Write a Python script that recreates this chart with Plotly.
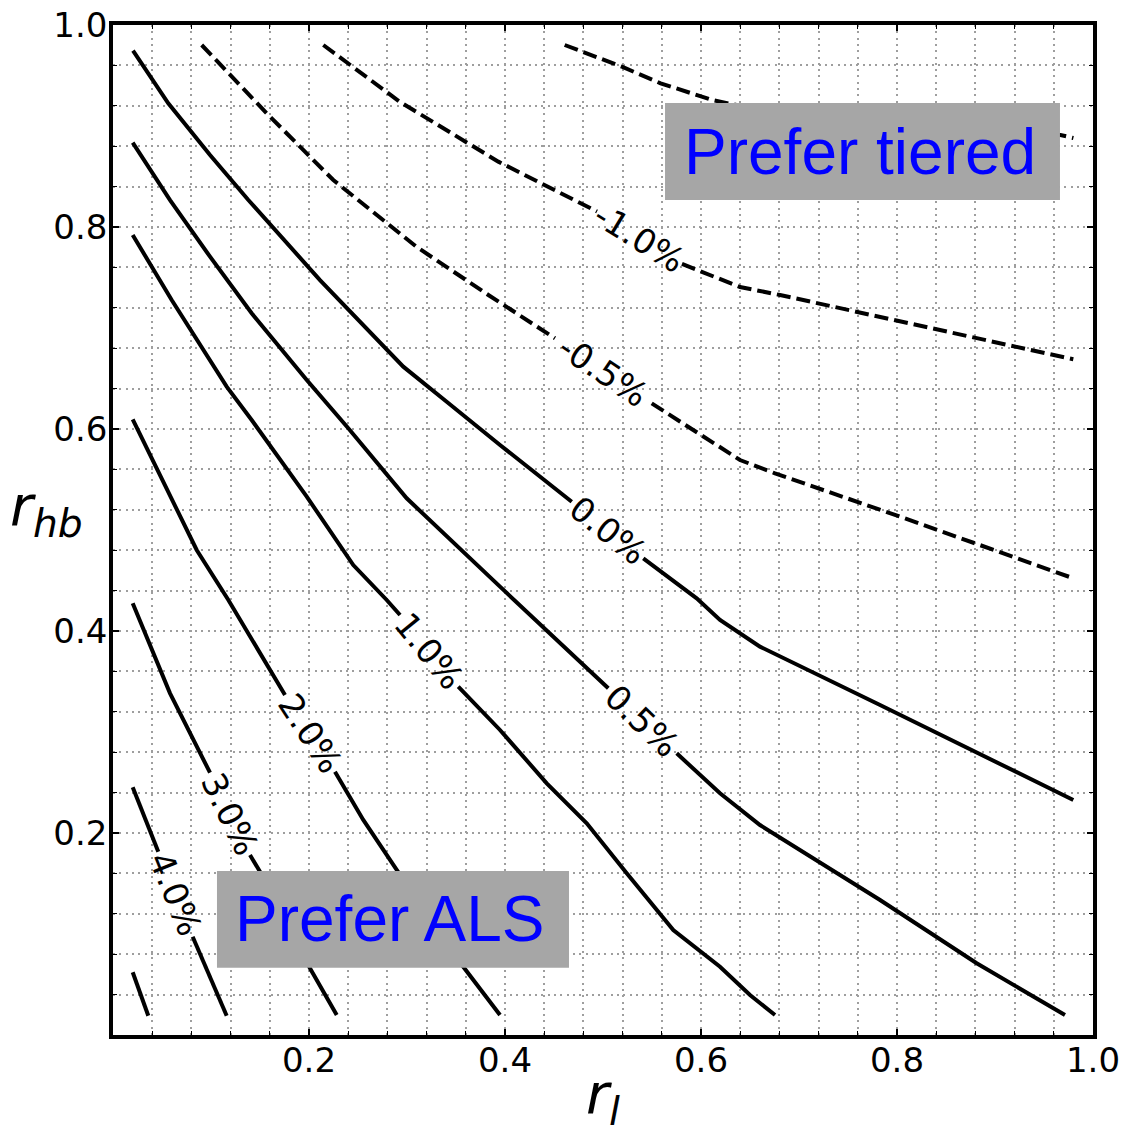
import math
import plotly.graph_objects as go

# ---- data (x = r_l, y = r_hb); None = gap left for the inline label
c_p00_x = [0.0204, 0.0564, 0.0990, 0.1381, 0.2112, 0.2962, 0.3405, 0.3949, 0.4681, None, 0.5411, 0.5956, 0.6194, 0.6602, 0.7827, 0.9799]
c_p00_y = [0.9746, 0.9225, 0.8713, 0.8267, 0.7475, 0.6617, 0.6270, 0.5842, 0.5280, None, 0.4720, 0.4324, 0.4109, 0.3845, 0.3267, 0.2327]

c_p05_x = [0.0201, 0.0582, 0.0990, 0.1415, 0.1977, 0.2401, 0.2997, 0.3405, 0.3949, 0.5054, None, 0.5752, 0.6194, 0.6602, 0.7827, 0.8813, 0.9714]
c_p05_y = [0.8835, 0.8267, 0.7706, 0.7146, 0.6485, 0.6007, 0.5314, 0.4934, 0.4439, 0.3433, None, 0.2789, 0.2393, 0.2079, 0.1337, 0.0710, 0.0198]

c_p10_x = [0.0201, 0.0599, 0.1160, 0.1415, 0.1977, 0.2452, 0.2793, 0.2929, None, 0.3523, 0.3949, 0.4426, 0.4834, 0.5242, 0.5717, 0.6194, 0.6500, 0.6755]
c_p10_y = [0.7921, 0.7277, 0.6419, 0.6089, 0.5330, 0.4653, 0.4307, 0.4158, None, 0.3449, 0.3020, 0.2492, 0.2096, 0.1601, 0.1040, 0.0676, 0.0396, 0.0198]

c_p20_x = [0.0201, 0.0599, 0.0854, 0.1177, 0.1755, None, 0.2265, 0.2554, 0.2895, 0.3574, 0.3949]
c_p20_y = [0.6096, 0.5314, 0.4802, 0.4307, 0.3366, None, 0.2607, 0.2129, 0.1634, 0.0676, 0.0198]

c_p30_x = [0.0201, 0.0582, 0.0990, None, 0.1398, 0.1500, 0.2010, 0.2283]
c_p30_y = [0.4274, 0.3383, 0.2597, None, 0.1782, 0.1617, 0.0660, 0.0198]

c_p40_x = [0.0201, 0.0462, None, 0.0813, 0.1160]
c_p40_y = [0.2452, 0.1815, None, 0.0973, 0.0191]

c_p50_x = [0.0201, 0.0360]
c_p50_y = [0.0621, 0.0191]

c_m05_x = [0.0905, 0.1568, 0.2248, 0.3095, 0.3830, 0.4510, None, 0.5497, 0.6398, 0.6755, 0.8031, 0.9799]
c_m05_y = [0.9802, 0.9126, 0.8465, 0.7805, 0.7327, 0.6898, None, 0.6254, 0.5693, 0.5561, 0.5132, 0.4522]

c_m10_x = [0.2146, 0.2929, 0.3932, 0.4939, None, 0.5806, 0.6398, 0.6806, 0.7350, 0.8405, 0.9799]
c_m10_y = [0.9802, 0.9238, 0.8647, 0.8153, None, 0.7634, 0.7406, 0.7327, 0.7211, 0.6980, 0.6690]

c_m15_x = [0.4609, 0.5193, 0.5588, 0.6114, 0.7010, 0.9668, 0.9800]
c_m15_y = [0.9802, 0.9587, 0.9423, 0.9257, 0.9079, 0.8911, 0.8881]

level_labels = ["0.0%", "0.5%", "1.0%", "2.0%", "3.0%", "4.0%", "5.0%", "-0.5%", "-1.0%", "-1.5%"]
level_values = [0.0, 0.5, 1.0, 2.0, 3.0, 4.0, 5.0, -0.5, -1.0, -1.5]
level_xs = [c_p00_x, c_p05_x, c_p10_x, c_p20_x, c_p30_x, c_p40_x, c_p50_x, c_m05_x, c_m10_x, c_m15_x]
level_ys = [c_p00_y, c_p05_y, c_p10_y, c_p20_y, c_p30_y, c_p40_y, c_p50_y, c_m05_y, c_m10_y, c_m15_y]

tick_vals = [0.2, 0.4, 0.6, 0.8, 1.0]
tick_text = ["0.2", "0.4", "0.6", "0.8", "1.0"]

region_text = ["Prefer tiered", "Prefer ALS"]
region_x0 = [0.5633, 0.1061]
region_x1 = [0.9663, 0.4653]
region_y0 = [0.8267, 0.0666]
region_y1 = [0.9228, 0.1624]

# ---- layout geometry
W, H = 1128, 1132
ML, MR, MT, MB = 113, 35, 25, 97
PW, PH = W - ML - MR, H - MT - MB

fig = go.Figure()
annotations = []
for lab, val, xs, ys in zip(level_labels, level_values, level_xs, level_ys):
    fig.add_trace(go.Scatter(
        x=xs, y=ys, mode="lines", connectgaps=False, showlegend=False,
        line=dict(color="black", width=4, dash=("14px,6px" if val < 0 else "solid")),
        hoverinfo="skip"))
    if None in xs:
        i = xs.index(None)
        x1, y1, x2, y2 = xs[i - 1], ys[i - 1], xs[i + 1], ys[i + 1]
        ang = math.degrees(math.atan2((y1 - y2) * PH, (x2 - x1) * PW))
        annotations.append(dict(
            x=(x1 + x2) / 2, y=(y1 + y2) / 2, xref="x", yref="y", text=lab,
            showarrow=False, textangle=ang, xanchor="center", yanchor="middle",
            font=dict(family="DejaVu Sans", size=34, color="black")))

shapes = []
for t, x0, x1, y0, y1 in zip(region_text, region_x0, region_x1, region_y0, region_y1):
    shapes.append(dict(type="rect", xref="x", yref="y", x0=x0, x1=x1, y0=y0, y1=y1,
                       fillcolor="#a6a6a6", line=dict(width=0), layer="above"))
    annotations.append(dict(x=(x0 + x1) / 2 - 0.003, y=(y0 + y1) / 2, xref="x", yref="y", text=t,
                            showarrow=False, xanchor="center", yanchor="middle",
                            font=dict(family="Liberation Sans, Arial", size=64, color="#0000ff")))

# axis titles (horizontal, as in the reference)
annotations.append(dict(x=-0.068, y=0.52, xref="paper", yref="paper", showarrow=False,
                        text="<i>r</i><sub><i>hb</i></sub>", xanchor="center", yanchor="middle",
                        font=dict(family="DejaVu Sans", size=56, color="black")))
annotations.append(dict(x=0.5, y=-0.062, xref="paper", yref="paper", showarrow=False,
                        text="<i>r</i><sub><i>l</i></sub>", xanchor="center", yanchor="middle",
                        font=dict(family="DejaVu Sans", size=56, color="black")))

grid_style = dict(gridcolor="#9e9e9e", gridwidth=2, griddash="2px,4.3px")
axis_common = dict(
    range=[0, 1], showline=True, linecolor="black", linewidth=3.5, mirror="ticks",
    automargin=False,
    ticks="inside", ticklen=6, tickwidth=1.5, tickcolor="black",
    tickvals=tick_vals, ticktext=tick_text, zeroline=False, showgrid=True,
    tickfont=dict(family="DejaVu Sans", size=34, color="black"),
    minor=dict(dtick=0.04, tick0=0, ticks="inside", ticklen=4, tickwidth=1.2, tickcolor="black",
               showgrid=True, **grid_style),
    **grid_style)

fig.update_layout(
    width=W, height=H, margin=dict(l=ML, r=MR, t=MT, b=MB, autoexpand=False),
    paper_bgcolor="white", plot_bgcolor="white",
    xaxis=dict(axis_common, ticklabelstandoff=-8),
    yaxis=dict(axis_common, ticklabelstandoff=-5),
    annotations=annotations, shapes=shapes)

fig.write_html("out.html", config={"displayModeBar": False},
               post_script="document.body.style.margin='0px';")
